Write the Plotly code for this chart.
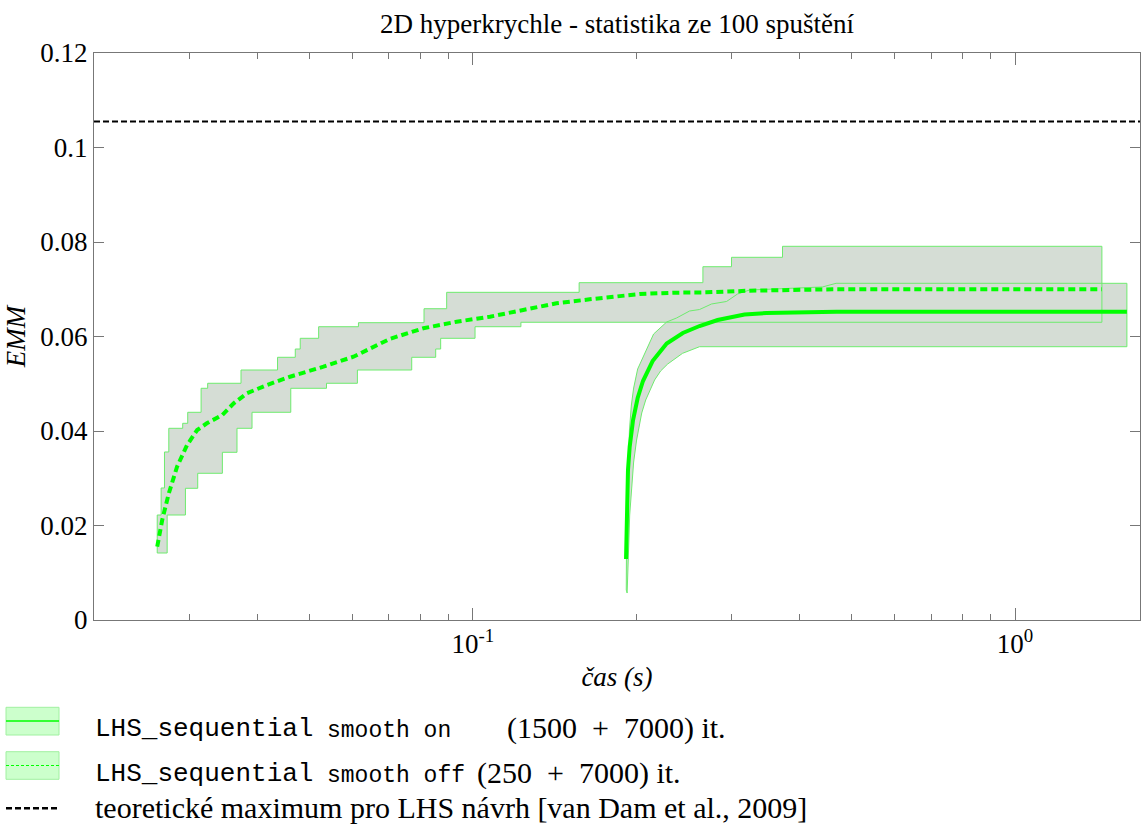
import numpy as np
import plotly.graph_objects as go

# ---------------- data ----------------
title_text = "2D hyperkrychle - statistika ze 100 spuštění"
x_title = "<i>čas (s)</i>"
y_title = "<i>EMM</i>"

# LHS_sequential, smooth off  (250 + 7000 it.) : mean curve
off_mean_t = [0.02616, 0.02672, 0.02748, 0.02846, 0.0297, 0.0310, 0.0323, 0.0345,
              0.0362, 0.0383, 0.0417, 0.0460, 0.0530, 0.0602, 0.0703, 0.0810,
              0.0933, 0.1075, 0.1238, 0.1426, 0.1642, 0.2030, 0.2338, 0.2694,
              0.3237, 0.4603, 1.446]
off_mean_emm = [0.01551, 0.02116, 0.02681, 0.03244, 0.03704, 0.04021, 0.04163, 0.04339,
                0.04586, 0.04798, 0.04974, 0.05149, 0.05361, 0.05572, 0.05950, 0.06174,
                0.06313, 0.06419, 0.06561, 0.06703, 0.06787, 0.06899, 0.06927, 0.06935,
                0.06969, 0.06999, 0.06999]
# min / max envelope (step functions: value holds from t until next t)
off_upper_t = [0.02616, 0.02660, 0.02698, 0.02748, 0.02915, 0.02978, 0.03152, 0.03241,
               0.03734, 0.04361, 0.04702, 0.04802, 0.05193, 0.06149, 0.08124, 0.08945,
               0.1570, 0.2656, 0.2999, 0.3724]
off_upper_emm = [0.02222, 0.02794, 0.03556, 0.04057, 0.04163, 0.04396, 0.04904, 0.05010,
                 0.05291, 0.05560, 0.05735, 0.05962, 0.06207, 0.06292, 0.06588, 0.06935,
                 0.07139, 0.07477, 0.07676, 0.07909]
off_lower_t = [0.02616, 0.02729, 0.02949, 0.03107, 0.0345, 0.03671, 0.03913, 0.04613,
               0.05369, 0.06122, 0.07711, 0.08537, 0.08719, 0.1009, 0.1226]
off_lower_emm = [0.01418, 0.02222, 0.02787, 0.03105, 0.03549, 0.04057, 0.04396, 0.04904,
                 0.05010, 0.05291, 0.05560, 0.05735, 0.05962, 0.06207, 0.06301]
off_end_t = 1.446

# LHS_sequential, smooth on  (1500 + 7000 it.) : mean curve
on_mean_t = [0.1916, 0.1921, 0.1932, 0.1946, 0.1974, 0.2013, 0.2059, 0.2145, 0.2277,
             0.2439, 0.2618, 0.2827, 0.3169, 0.3478, 0.4002, 0.4681, 1.608]
on_mean_emm = [0.01291, 0.02116, 0.03175, 0.03668, 0.04233, 0.04698, 0.05058, 0.05481,
               0.05852, 0.06074, 0.06222, 0.06349, 0.06466, 0.06497, 0.06514, 0.06525,
               0.06525]
on_upper_t = [0.1918, 0.1920, 0.1932, 0.1944, 0.1960, 0.1979, 0.2013, 0.2090, 0.2154,
              0.2277, 0.2375, 0.2510, 0.2618, 0.2755, 0.2936, 0.3076, 0.3237, 0.4412,
              0.4676, 1.608]
on_upper_emm = [0.00635, 0.01757, 0.02899, 0.04021, 0.04550, 0.04910, 0.05312, 0.05714,
                0.06053, 0.06307, 0.06392, 0.06540, 0.06571, 0.06688, 0.06741, 0.06899,
                0.06984, 0.07048, 0.07126, 0.07126]
on_lower_t = [0.1925, 0.1934, 0.1946, 0.1963, 0.1979, 0.2004, 0.2048, 0.2083, 0.2127,
              0.2163, 0.2219, 0.2287, 0.2436, 0.2618, 1.608]
on_lower_emm = [0.00571, 0.01270, 0.02222, 0.02794, 0.03344, 0.03810, 0.04381, 0.04656,
                0.04889, 0.05079, 0.05270, 0.05418, 0.05644, 0.05784, 0.05784]

theory_max = 0.1055
x_range = [0.02, 1.7]
y_range = [0, 0.12]
y_tickvals = [0, 0.02, 0.04, 0.06, 0.08, 0.1, 0.12]
y_ticktext = ["0", "0.02", "0.04", "0.06", "0.08", "0.1", "0.12"]
x_tickvals = [0.1, 1]
x_ticktext = ["10<sup>-1</sup>", "10<sup>0</sup>"]
x_minor_vals = [0.03, 0.04, 0.05, 0.06, 0.07, 0.08, 0.09,
                0.2, 0.3, 0.4, 0.5, 0.6, 0.7, 0.8, 0.9]

legend_mono = ["LHS_sequential", "LHS_sequential"]
legend_small = ["smooth on", "smooth off"]
legend_iters = ["(1500\u2002+\u20027000) it.", "(250\u2002+\u20027000) it."]
legend_theory = "teoretické maximum pro LHS návrh [van Dam et al., 2009]"

# ---------------- styles ----------------
W, H = 1141, 832
ML, MR, MT, MB = 94, 1, 53, 212
SERIF = "'Liberation Serif', 'Times New Roman', Times, 'DejaVu Serif', serif"
MONO = "'Liberation Mono', 'Courier New', 'DejaVu Sans Mono', monospace"
GREEN = "#00ff00"
BAND_FILL = "rgb(213,221,213)"
BAND_EDGE = "rgb(110,235,110)"
AXIS_COL = "#777777"


def step_polygon(ut, uy, lt, ly, t_end):
    xs, ys = [], []
    ut2 = list(ut) + [t_end]
    for i in range(len(uy)):
        xs += [ut2[i], ut2[i + 1]]
        ys += [uy[i], uy[i]]
    lt2 = list(lt) + [t_end]
    lx, lyy = [], []
    for i in range(len(ly)):
        lx += [lt2[i], lt2[i + 1]]
        lyy += [ly[i], ly[i]]
    xs += lx[::-1]
    ys += lyy[::-1]
    xs.append(xs[0])
    ys.append(ys[0])
    return xs, ys


def line_polygon(ut, uy, lt, ly):
    xs = list(ut) + list(lt)[::-1] + [ut[0]]
    ys = list(uy) + list(ly)[::-1] + [uy[0]]
    return xs, ys


off_px, off_py = step_polygon(off_upper_t, off_upper_emm, off_lower_t, off_lower_emm, off_end_t)
on_px, on_py = line_polygon(on_upper_t, on_upper_emm, on_lower_t, on_lower_emm)

fig = go.Figure()
# band fills
for px, py in [(off_px, off_py), (on_px, on_py)]:
    fig.add_trace(go.Scatter(x=px, y=py, mode="lines", fill="toself", fillcolor=BAND_FILL,
                             line=dict(width=0, color=BAND_FILL), hoverinfo="skip",
                             showlegend=False))
# band outlines
for px, py in [(off_px, off_py), (on_px, on_py)]:
    fig.add_trace(go.Scatter(x=px, y=py, mode="lines",
                             line=dict(width=1, color=BAND_EDGE), hoverinfo="skip",
                             showlegend=False))
# mean curves
fig.add_trace(go.Scatter(x=off_mean_t, y=off_mean_emm, mode="lines",
                         line=dict(width=4, color=GREEN, dash="7px,4px"),
                         name="smooth off", showlegend=False))
fig.add_trace(go.Scatter(x=on_mean_t, y=on_mean_emm, mode="lines",
                         line=dict(width=4, color=GREEN),
                         name="smooth on", showlegend=False))
# theoretical maximum
fig.add_trace(go.Scatter(x=x_range, y=[theory_max, theory_max], mode="lines",
                         line=dict(width=2, color="black", dash="6px,3px"),
                         name="teoretické maximum", showlegend=False))

plot_w = W - ML - MR
plot_h = H - MT - MB


def pxx(p):
    return (p - ML) / plot_w


def pxy(p):
    return (H - MB - p) / plot_h


# ---------------- manual legend below the axes ----------------
shapes = []
box_rows = [(707.3, 735.0, 721.0, "solid", 1.5), (751.7, 779.3, 765.5, "3px,2px", 1)]
for (y0, y1, yl, dash, lw) in box_rows:
    shapes.append(dict(type="rect", xref="paper", yref="paper",
                       x0=pxx(6), x1=pxx(59), y0=pxy(y1), y1=pxy(y0),
                       fillcolor="rgb(204,255,204)", line=dict(color="rgb(160,240,160)", width=1),
                       layer="above"))
    shapes.append(dict(type="line", xref="paper", yref="paper",
                       x0=pxx(6), x1=pxx(59), y0=pxy(yl), y1=pxy(yl),
                       line=dict(color=GREEN, width=lw, dash=dash), layer="above"))
shapes.append(dict(type="line", xref="paper", yref="paper",
                   x0=pxx(6), x1=pxx(57), y0=pxy(808.3), y1=pxy(808.3),
                   line=dict(color="black", width=2.5, dash="6px,3px"), layer="above"))

annotations = []
row_y = [729, 774]
iter_x = [505, 475]
for i in range(2):
    annotations.append(dict(text=legend_mono[i], x=pxx(93), y=pxy(row_y[i]), xref="paper", yref="paper",
                            xanchor="left", yanchor="middle", showarrow=False,
                            font=dict(family=MONO, size=26, color="black")))
    annotations.append(dict(text=legend_small[i], x=pxx(325), y=pxy(row_y[i] + 2), xref="paper", yref="paper",
                            xanchor="left", yanchor="middle", showarrow=False,
                            font=dict(family=MONO, size=23, color="black")))
    annotations.append(dict(text=legend_iters[i], x=pxx(iter_x[i]), y=pxy(row_y[i] - 1), xref="paper", yref="paper",
                            xanchor="left", yanchor="middle", showarrow=False,
                            font=dict(family=SERIF, size=30, color="black")))
annotations.append(dict(text=legend_theory, x=pxx(93), y=pxy(807), xref="paper", yref="paper",
                        xanchor="left", yanchor="middle", showarrow=False,
                        font=dict(family=SERIF, size=30, color="black")))

fig.update_layout(
    width=W, height=H,
    margin=dict(l=ML, r=MR, t=MT, b=MB, pad=0),
    paper_bgcolor="white", plot_bgcolor="white",
    font=dict(family=SERIF, size=26, color="black"),
    title=dict(text=title_text, x=(ML + plot_w / 2) / W, xanchor="center",
               y=1 - 24 / H, yanchor="middle",
               font=dict(family=SERIF, size=27, color="black")),
    showlegend=False,
    shapes=shapes,
    annotations=annotations,
)
fig.update_xaxes(
    type="log", range=[np.log10(x_range[0]), np.log10(x_range[1])],
    tickmode="array", tickvals=x_tickvals, ticktext=x_ticktext,
    ticks="inside", ticklen=12, tickwidth=1, tickcolor=AXIS_COL,
    minor=dict(tickmode="array", tickvals=x_minor_vals, ticks="inside", ticklen=6,
               tickwidth=1, tickcolor=AXIS_COL, showgrid=False),
    showline=True, linecolor=AXIS_COL, linewidth=1, mirror="ticks",
    showgrid=False, zeroline=False,
    tickfont=dict(family=SERIF, size=27, color="black"),
    title=dict(text=x_title, standoff=8, font=dict(family=SERIF, size=27, color="black")),
)
fig.update_yaxes(
    range=y_range, tickmode="array", tickvals=y_tickvals, ticktext=y_ticktext,
    ticks="inside", ticklen=10, tickwidth=1, tickcolor=AXIS_COL,
    showline=True, linecolor=AXIS_COL, linewidth=1, mirror="ticks",
    showgrid=False, zeroline=False,
    tickfont=dict(family=SERIF, size=27, color="black"),
    title=dict(text=y_title, standoff=6, font=dict(family=SERIF, size=27, color="black")),
)

fig.write_html("out.html")
